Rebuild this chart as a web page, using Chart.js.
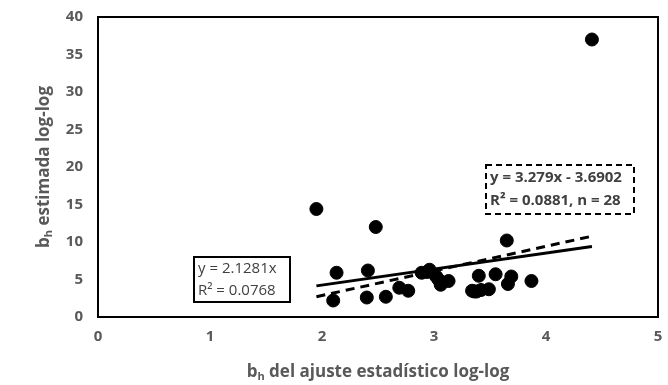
<!DOCTYPE html>
<html>
<head>
<meta charset="utf-8">
<script src="https://cdn.jsdelivr.net/npm/chart.js@4/dist/chart.umd.min.js"></script>
<style>
  html, body { margin: 0; padding: 0; background: #fff; }
  #wrap { width: 668px; height: 385px; }
</style>
</head>
<body>
<div id="wrap"><canvas id="grafico"></canvas></div>
<script>
// puntos (bh ajuste, bh estimada)
const bhAjuste = [1.95, 2.10, 2.13, 2.40, 2.41, 2.48, 2.57, 2.69, 2.77, 2.89, 2.94, 2.96, 3.02, 3.04,
                  3.06, 3.13, 3.34, 3.38, 3.40, 3.42, 3.49, 3.55, 3.65, 3.66, 3.69, 3.87, 4.41, 3.36];
const bhEstimada = [14.4, 2.2, 5.9, 2.6, 6.2, 12.0, 2.7, 3.9, 3.5, 5.9, 6.0, 6.3, 5.4, 5.0,
                    4.3, 4.8, 3.5, 3.4, 5.5, 3.6, 3.7, 5.7, 10.2, 4.4, 5.4, 4.8, 37.0, 3.4];

// extremos de las lineas de tendencia
const tendenciaX = [1.95, 4.41];
const tendenciaSolida = [4.15, 9.39];
const tendenciaDiscontinua = [2.70, 10.77];

const ticksX = [0, 1, 2, 3, 4, 5];
const ticksY = [0, 5, 10, 15, 20, 25, 30, 35, 40];

const etiquetaSolida = ['y = 2.1281x', 'R\u00B2 = 0.0768'];
const etiquetaDiscontinua = ['y = 3.279x - 3.6902', 'R\u00B2 = 0.0881, n = 28'];
const tituloX = ['b', 'h', ' del ajuste estadístico log-log'];
const tituloY = ['b', 'h', ' estimada log-log'];

const fuente = '"Open Sans", "Liberation Sans", sans-serif';
const gris = '#595959';

function textoConSubindice(ctx, partes, size) {
    ctx.font = 'bold ' + size + 'px ' + fuente;
    const w1 = ctx.measureText(partes[0]).width;
    const w3 = ctx.measureText(partes[2]).width;
    ctx.font = 'bold ' + Math.round(size * 0.65) + 'px ' + fuente;
    const w2 = ctx.measureText(partes[1]).width;
    const total = w1 + w2 + w3;
    let x = -total / 2;
    ctx.textBaseline = 'middle';
    ctx.textAlign = 'left';
    ctx.font = 'bold ' + size + 'px ' + fuente;
    ctx.fillText(partes[0], x, 0);
    x += w1;
    ctx.font = 'bold ' + Math.round(size * 0.65) + 'px ' + fuente;
    ctx.fillText(partes[1], x, size * 0.3);
    x += w2;
    ctx.font = 'bold ' + size + 'px ' + fuente;
    ctx.fillText(partes[2], x, 0);
}

const extras = {
    id: 'extras',
    afterDraw(chart) {
        const ctx = chart.ctx;
        const a = chart.chartArea;
        ctx.save();
        // marco del area
        ctx.strokeStyle = '#000';
        ctx.lineWidth = 2;
        ctx.setLineDash([]);
        ctx.strokeRect(a.left, a.top, a.right - a.left, a.bottom - a.top);

        // cuadro de la linea continua
        ctx.lineWidth = 2;
        ctx.strokeRect(194, 257, 96, 45);
        ctx.fillStyle = '#404040';
        ctx.font = '15px ' + fuente;
        ctx.textAlign = 'left';
        ctx.textBaseline = 'middle';
        ctx.fillText(etiquetaSolida[0], 198, 269);
        ctx.fillText(etiquetaSolida[1], 198, 291);

        // cuadro de la linea discontinua
        ctx.setLineDash([6, 4]);
        ctx.strokeRect(486, 165, 148, 49);
        ctx.setLineDash([]);
        ctx.font = 'bold 15px ' + fuente;
        ctx.fillText(etiquetaDiscontinua[0], 490, 178);
        ctx.fillText(etiquetaDiscontinua[1], 490, 201);

        // titulos de ejes
        ctx.fillStyle = gris;
        ctx.save();
        ctx.translate((a.left + a.right) / 2, 372);
        textoConSubindice(ctx, tituloX, 17);
        ctx.restore();
        ctx.save();
        ctx.translate(44, (a.top + a.bottom) / 2);
        ctx.rotate(-Math.PI / 2);
        textoConSubindice(ctx, tituloY, 17);
        ctx.restore();
        ctx.restore();
    }
};

new Chart(document.getElementById('grafico'), {
    type: 'scatter',
    data: {
        datasets: [
            {
                data: bhAjuste.map((x, i) => ({ x: x, y: bhEstimada[i] })),
                backgroundColor: '#000',
                borderColor: '#000',
                pointRadius: 6.5,
                pointHoverRadius: 6.5
            },
            {
                type: 'line',
                data: tendenciaX.map((x, i) => ({ x: x, y: tendenciaSolida[i] })),
                borderColor: '#000',
                borderWidth: 3,
                pointRadius: 0,
                fill: false
            },
            {
                type: 'line',
                data: tendenciaX.map((x, i) => ({ x: x, y: tendenciaDiscontinua[i] })),
                borderColor: '#000',
                borderWidth: 3,
                borderDash: [9, 6],
                pointRadius: 0,
                fill: false
            }
        ]
    },
    options: {
        responsive: true,
        maintainAspectRatio: false,
        animation: false,
        layout: { padding: { top: 17, right: 10, left: 0, bottom: 0 } },
        plugins: {
            legend: { display: false },
            tooltip: { enabled: false }
        },
        scales: {
            x: {
                type: 'linear',
                min: 0,
                max: 5,
                afterBuildTicks: s => { s.ticks = ticksX.map(v => ({ value: v })); },
                afterFit: s => { s.height = 68; s.paddingLeft = 0; s.paddingRight = 0; },
                grid: { display: false, drawTicks: false },
                border: { display: false },
                ticks: {
                    color: gris,
                    font: { family: fuente, size: 15, weight: 'bold' },
                    padding: 11
                }
            },
            y: {
                min: 0,
                max: 40,
                afterBuildTicks: s => { s.ticks = ticksY.map(v => ({ value: v })); },
                afterFit: s => { s.width = 98; s.paddingTop = 0; s.paddingBottom = 0; },
                grid: { display: false, drawTicks: false },
                border: { display: false },
                ticks: {
                    color: gris,
                    font: { family: fuente, size: 15, weight: 'bold' },
                    padding: 15
                }
            }
        }
    },
    plugins: [extras]
});
</script>
</body>
</html>
